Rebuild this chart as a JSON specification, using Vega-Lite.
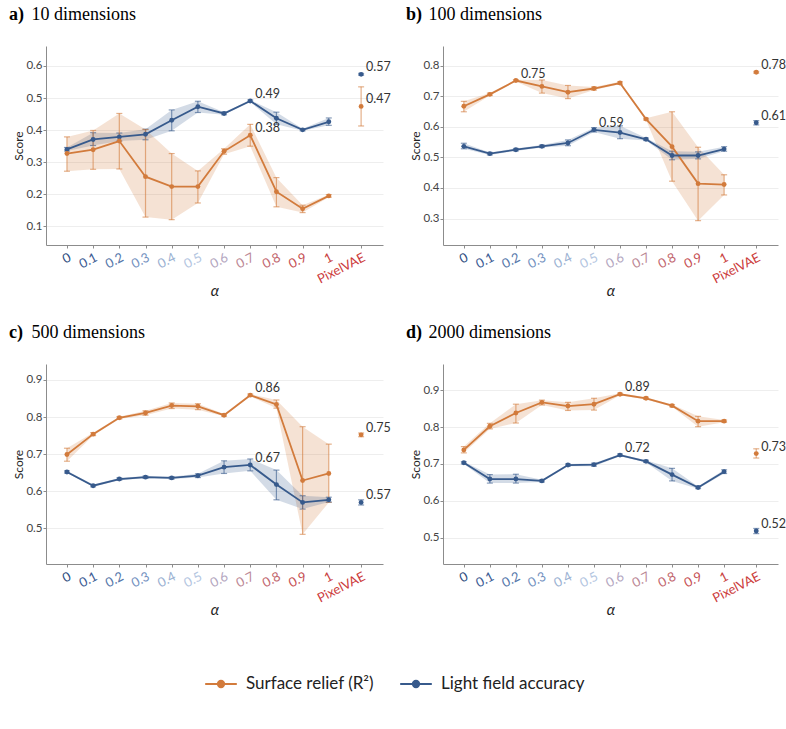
{
  "$schema": "https://vega.github.io/schema/vega-lite/v6.json",
  "background": "white",
  "padding": {"left": 8, "top": 6, "right": 2, "bottom": 5},
  "data": {
    "values": [
      {"panel": "a", "measure": "Light field accuracy", "alpha": 0, "score": 0.340, "lo": 0.335, "hi": 0.346},
      {"panel": "a", "measure": "Light field accuracy", "alpha": 0.1, "score": 0.371, "lo": 0.352, "hi": 0.392},
      {"panel": "a", "measure": "Light field accuracy", "alpha": 0.2, "score": 0.379, "lo": 0.366, "hi": 0.391},
      {"panel": "a", "measure": "Light field accuracy", "alpha": 0.3, "score": 0.387, "lo": 0.370, "hi": 0.403},
      {"panel": "a", "measure": "Light field accuracy", "alpha": 0.4, "score": 0.431, "lo": 0.398, "hi": 0.463},
      {"panel": "a", "measure": "Light field accuracy", "alpha": 0.5, "score": 0.473, "lo": 0.455, "hi": 0.490},
      {"panel": "a", "measure": "Light field accuracy", "alpha": 0.6, "score": 0.452, "lo": 0.448, "hi": 0.456},
      {"panel": "a", "measure": "Light field accuracy", "alpha": 0.7, "score": 0.491, "lo": 0.488, "hi": 0.494},
      {"panel": "a", "measure": "Light field accuracy", "alpha": 0.8, "score": 0.437, "lo": 0.418, "hi": 0.456},
      {"panel": "a", "measure": "Light field accuracy", "alpha": 0.9, "score": 0.401, "lo": 0.398, "hi": 0.404},
      {"panel": "a", "measure": "Light field accuracy", "alpha": 1, "score": 0.426, "lo": 0.415, "hi": 0.438},
      {"panel": "a", "measure": "Light field accuracy", "alpha": "PixelVAE", "score": 0.574, "lo": 0.571, "hi": 0.577},
      {"panel": "a", "measure": "Surface relief (R²)", "alpha": 0, "score": 0.327, "lo": 0.272, "hi": 0.379},
      {"panel": "a", "measure": "Surface relief (R²)", "alpha": 0.1, "score": 0.339, "lo": 0.278, "hi": 0.399},
      {"panel": "a", "measure": "Surface relief (R²)", "alpha": 0.2, "score": 0.366, "lo": 0.279, "hi": 0.452},
      {"panel": "a", "measure": "Surface relief (R²)", "alpha": 0.3, "score": 0.255, "lo": 0.129, "hi": 0.402},
      {"panel": "a", "measure": "Surface relief (R²)", "alpha": 0.4, "score": 0.224, "lo": 0.121, "hi": 0.327},
      {"panel": "a", "measure": "Surface relief (R²)", "alpha": 0.5, "score": 0.224, "lo": 0.173, "hi": 0.273},
      {"panel": "a", "measure": "Surface relief (R²)", "alpha": 0.6, "score": 0.334, "lo": 0.325, "hi": 0.342},
      {"panel": "a", "measure": "Surface relief (R²)", "alpha": 0.7, "score": 0.384, "lo": 0.350, "hi": 0.418},
      {"panel": "a", "measure": "Surface relief (R²)", "alpha": 0.8, "score": 0.208, "lo": 0.161, "hi": 0.252},
      {"panel": "a", "measure": "Surface relief (R²)", "alpha": 0.9, "score": 0.155, "lo": 0.143, "hi": 0.166},
      {"panel": "a", "measure": "Surface relief (R²)", "alpha": 1, "score": 0.195, "lo": 0.191, "hi": 0.199},
      {"panel": "a", "measure": "Surface relief (R²)", "alpha": "PixelVAE", "score": 0.474, "lo": 0.413, "hi": 0.535},

      {"panel": "b", "measure": "Surface relief (R²)", "alpha": 0, "score": 0.667, "lo": 0.649, "hi": 0.683},
      {"panel": "b", "measure": "Surface relief (R²)", "alpha": 0.1, "score": 0.706, "lo": 0.702, "hi": 0.710},
      {"panel": "b", "measure": "Surface relief (R²)", "alpha": 0.2, "score": 0.751, "lo": 0.748, "hi": 0.754},
      {"panel": "b", "measure": "Surface relief (R²)", "alpha": 0.3, "score": 0.732, "lo": 0.710, "hi": 0.753},
      {"panel": "b", "measure": "Surface relief (R²)", "alpha": 0.4, "score": 0.713, "lo": 0.692, "hi": 0.735},
      {"panel": "b", "measure": "Surface relief (R²)", "alpha": 0.5, "score": 0.725, "lo": 0.720, "hi": 0.730},
      {"panel": "b", "measure": "Surface relief (R²)", "alpha": 0.6, "score": 0.743, "lo": 0.739, "hi": 0.747},
      {"panel": "b", "measure": "Surface relief (R²)", "alpha": 0.7, "score": 0.625, "lo": 0.622, "hi": 0.628},
      {"panel": "b", "measure": "Surface relief (R²)", "alpha": 0.8, "score": 0.535, "lo": 0.422, "hi": 0.649},
      {"panel": "b", "measure": "Surface relief (R²)", "alpha": 0.9, "score": 0.414, "lo": 0.293, "hi": 0.533},
      {"panel": "b", "measure": "Surface relief (R²)", "alpha": 1, "score": 0.411, "lo": 0.377, "hi": 0.443},
      {"panel": "b", "measure": "Surface relief (R²)", "alpha": "PixelVAE", "score": 0.778, "lo": 0.775, "hi": 0.781},
      {"panel": "b", "measure": "Light field accuracy", "alpha": 0, "score": 0.536, "lo": 0.528, "hi": 0.546},
      {"panel": "b", "measure": "Light field accuracy", "alpha": 0.1, "score": 0.512, "lo": 0.508, "hi": 0.516},
      {"panel": "b", "measure": "Light field accuracy", "alpha": 0.2, "score": 0.525, "lo": 0.521, "hi": 0.529},
      {"panel": "b", "measure": "Light field accuracy", "alpha": 0.3, "score": 0.536, "lo": 0.532, "hi": 0.540},
      {"panel": "b", "measure": "Light field accuracy", "alpha": 0.4, "score": 0.547, "lo": 0.538, "hi": 0.557},
      {"panel": "b", "measure": "Light field accuracy", "alpha": 0.5, "score": 0.590, "lo": 0.583, "hi": 0.597},
      {"panel": "b", "measure": "Light field accuracy", "alpha": 0.6, "score": 0.581, "lo": 0.561, "hi": 0.603},
      {"panel": "b", "measure": "Light field accuracy", "alpha": 0.7, "score": 0.559, "lo": 0.555, "hi": 0.563},
      {"panel": "b", "measure": "Light field accuracy", "alpha": 0.8, "score": 0.506, "lo": 0.492, "hi": 0.520},
      {"panel": "b", "measure": "Light field accuracy", "alpha": 0.9, "score": 0.506, "lo": 0.495, "hi": 0.518},
      {"panel": "b", "measure": "Light field accuracy", "alpha": 1, "score": 0.527, "lo": 0.520, "hi": 0.535},
      {"panel": "b", "measure": "Light field accuracy", "alpha": "PixelVAE", "score": 0.613, "lo": 0.606, "hi": 0.620},

      {"panel": "c", "measure": "Surface relief (R²)", "alpha": 0, "score": 0.699, "lo": 0.681, "hi": 0.716},
      {"panel": "c", "measure": "Surface relief (R²)", "alpha": 0.1, "score": 0.754, "lo": 0.750, "hi": 0.758},
      {"panel": "c", "measure": "Surface relief (R²)", "alpha": 0.2, "score": 0.798, "lo": 0.795, "hi": 0.801},
      {"panel": "c", "measure": "Surface relief (R²)", "alpha": 0.3, "score": 0.811, "lo": 0.805, "hi": 0.817},
      {"panel": "c", "measure": "Surface relief (R²)", "alpha": 0.4, "score": 0.831, "lo": 0.823, "hi": 0.838},
      {"panel": "c", "measure": "Surface relief (R²)", "alpha": 0.5, "score": 0.829, "lo": 0.820, "hi": 0.836},
      {"panel": "c", "measure": "Surface relief (R²)", "alpha": 0.6, "score": 0.805, "lo": 0.802, "hi": 0.808},
      {"panel": "c", "measure": "Surface relief (R²)", "alpha": 0.7, "score": 0.859, "lo": 0.856, "hi": 0.862},
      {"panel": "c", "measure": "Surface relief (R²)", "alpha": 0.8, "score": 0.834, "lo": 0.824, "hi": 0.846},
      {"panel": "c", "measure": "Surface relief (R²)", "alpha": 0.9, "score": 0.629, "lo": 0.484, "hi": 0.774},
      {"panel": "c", "measure": "Surface relief (R²)", "alpha": 1, "score": 0.648, "lo": 0.570, "hi": 0.727},
      {"panel": "c", "measure": "Surface relief (R²)", "alpha": "PixelVAE", "score": 0.752, "lo": 0.747, "hi": 0.757},
      {"panel": "c", "measure": "Light field accuracy", "alpha": 0, "score": 0.652, "lo": 0.649, "hi": 0.655},
      {"panel": "c", "measure": "Light field accuracy", "alpha": 0.1, "score": 0.615, "lo": 0.612, "hi": 0.618},
      {"panel": "c", "measure": "Light field accuracy", "alpha": 0.2, "score": 0.633, "lo": 0.630, "hi": 0.636},
      {"panel": "c", "measure": "Light field accuracy", "alpha": 0.3, "score": 0.638, "lo": 0.635, "hi": 0.641},
      {"panel": "c", "measure": "Light field accuracy", "alpha": 0.4, "score": 0.636, "lo": 0.633, "hi": 0.639},
      {"panel": "c", "measure": "Light field accuracy", "alpha": 0.5, "score": 0.642, "lo": 0.637, "hi": 0.647},
      {"panel": "c", "measure": "Light field accuracy", "alpha": 0.6, "score": 0.665, "lo": 0.648, "hi": 0.682},
      {"panel": "c", "measure": "Light field accuracy", "alpha": 0.7, "score": 0.671, "lo": 0.655, "hi": 0.687},
      {"panel": "c", "measure": "Light field accuracy", "alpha": 0.8, "score": 0.618, "lo": 0.577, "hi": 0.657},
      {"panel": "c", "measure": "Light field accuracy", "alpha": 0.9, "score": 0.570, "lo": 0.552, "hi": 0.588},
      {"panel": "c", "measure": "Light field accuracy", "alpha": 1, "score": 0.577, "lo": 0.571, "hi": 0.584},
      {"panel": "c", "measure": "Light field accuracy", "alpha": "PixelVAE", "score": 0.570, "lo": 0.563, "hi": 0.577},

      {"panel": "d", "measure": "Surface relief (R²)", "alpha": 0, "score": 0.738, "lo": 0.730, "hi": 0.747},
      {"panel": "d", "measure": "Surface relief (R²)", "alpha": 0.1, "score": 0.802, "lo": 0.795, "hi": 0.810},
      {"panel": "d", "measure": "Surface relief (R²)", "alpha": 0.2, "score": 0.838, "lo": 0.811, "hi": 0.862},
      {"panel": "d", "measure": "Surface relief (R²)", "alpha": 0.3, "score": 0.867, "lo": 0.860, "hi": 0.873},
      {"panel": "d", "measure": "Surface relief (R²)", "alpha": 0.4, "score": 0.857, "lo": 0.845, "hi": 0.867},
      {"panel": "d", "measure": "Surface relief (R²)", "alpha": 0.5, "score": 0.862, "lo": 0.846, "hi": 0.878},
      {"panel": "d", "measure": "Surface relief (R²)", "alpha": 0.6, "score": 0.889, "lo": 0.886, "hi": 0.892},
      {"panel": "d", "measure": "Surface relief (R²)", "alpha": 0.7, "score": 0.878, "lo": 0.875, "hi": 0.881},
      {"panel": "d", "measure": "Surface relief (R²)", "alpha": 0.8, "score": 0.858, "lo": 0.855, "hi": 0.861},
      {"panel": "d", "measure": "Surface relief (R²)", "alpha": 0.9, "score": 0.816, "lo": 0.801, "hi": 0.829},
      {"panel": "d", "measure": "Surface relief (R²)", "alpha": 1, "score": 0.816, "lo": 0.813, "hi": 0.819},
      {"panel": "d", "measure": "Surface relief (R²)", "alpha": "PixelVAE", "score": 0.728, "lo": 0.716, "hi": 0.741},
      {"panel": "d", "measure": "Light field accuracy", "alpha": 0, "score": 0.703, "lo": 0.700, "hi": 0.706},
      {"panel": "d", "measure": "Light field accuracy", "alpha": 0.1, "score": 0.659, "lo": 0.648, "hi": 0.671},
      {"panel": "d", "measure": "Light field accuracy", "alpha": 0.2, "score": 0.659, "lo": 0.648, "hi": 0.672},
      {"panel": "d", "measure": "Light field accuracy", "alpha": 0.3, "score": 0.654, "lo": 0.651, "hi": 0.657},
      {"panel": "d", "measure": "Light field accuracy", "alpha": 0.4, "score": 0.697, "lo": 0.694, "hi": 0.700},
      {"panel": "d", "measure": "Light field accuracy", "alpha": 0.5, "score": 0.698, "lo": 0.694, "hi": 0.702},
      {"panel": "d", "measure": "Light field accuracy", "alpha": 0.6, "score": 0.724, "lo": 0.721, "hi": 0.727},
      {"panel": "d", "measure": "Light field accuracy", "alpha": 0.7, "score": 0.707, "lo": 0.704, "hi": 0.710},
      {"panel": "d", "measure": "Light field accuracy", "alpha": 0.8, "score": 0.671, "lo": 0.654, "hi": 0.688},
      {"panel": "d", "measure": "Light field accuracy", "alpha": 0.9, "score": 0.636, "lo": 0.633, "hi": 0.639},
      {"panel": "d", "measure": "Light field accuracy", "alpha": 1, "score": 0.679, "lo": 0.674, "hi": 0.684},
      {"panel": "d", "measure": "Light field accuracy", "alpha": "PixelVAE", "score": 0.518, "lo": 0.511, "hi": 0.525}
    ]
  },
  "transform": [
    {"calculate": "isNumber(datum.alpha) ? datum.alpha : 1.1234", "as": "xpos"},
    {"calculate": "isNumber(datum.alpha) ? 'sweep' : 'baseline'", "as": "group"},
    {"joinaggregate": [{"op": "max", "field": "score", "as": "best"}], "groupby": ["panel", "measure", "group"]}
  ],
  "vconcat": [
    {
      "spacing": 14,
      "hconcat": [
        {
          "width": 337, "height": 199,
          "title": {"text": "a)", "subtitle": "\u200b\u00a0\u00a0\u00a0\u00a0\u00a010 dimensions"},
          "transform": [{"filter": "datum.panel == 'a'"}],
          "encoding": {
            "x": {"field": "xpos", "type": "quantitative", "title": "α",
                  "scale": {"domain": [-0.08, 1.207], "nice": false, "zero": false},
                  "axis": {"values": [0, 0.1, 0.2, 0.3, 0.4, 0.5, 0.6, 0.7, 0.8, 0.9, 1, 1.1234], "tickCount": 20, "format": "~g", "labelOverlap": false,
                           "labelExpr": "datum.value > 1.05 ? 'PixelVAE' : datum.label",
                           "labelColor": {"expr": "['#2e4d80','#3b5b93','#5677aa','#7492bf','#9ab1d2','#b3c5df','#b3a6c0','#bb8794','#c2676f','#c64f53','#c93f40','#cc3b3b'][round(datum.value * 10)]"}}},
            "y": {"field": "score", "type": "quantitative", "title": "Score",
                  "scale": {"domain": [0.042, 0.6623], "nice": false, "zero": false},
                  "axis": {"values": [0.1, 0.2, 0.3, 0.4, 0.5, 0.6], "tickCount": 20, "labelOverlap": false}},
            "color": {"field": "measure", "type": "nominal",
                      "scale": {"domain": ["Surface relief (R²)", "Light field accuracy"], "range": ["#d27b3c", "#375a8c"]},
                      "legend": {"orient": "none", "legendX": 158, "legendY": 621, "direction": "horizontal", "title": null,
                                 "encode": {"symbols": {"update": {"opacity": {"value": 1}, "fill": {"scale": "color", "field": "value"}, "stroke": {"scale": "color", "field": "value"}, "strokeWidth": {"value": 2}}}}}}
          },
          "layer": [
            {"mark": {"type": "area", "opacity": 0.22}, "transform": [{"filter": "datum.group == 'sweep'"}],
             "encoding": {"y": {"field": "lo", "type": "quantitative", "title": "Score", "scale": {"domain": [0.042, 0.6623], "nice": false, "zero": false}, "axis": {"values": [0.1, 0.2, 0.3, 0.4, 0.5, 0.6], "tickCount": 20, "labelOverlap": false}}, "y2": {"field": "hi"}}},
            {"mark": {"type": "errorbar", "ticks": {"size": 6}, "thickness": 1.2, "opacity": 0.6},
             "encoding": {"y": {"field": "lo", "type": "quantitative", "title": "Score", "scale": {"domain": [0.042, 0.6623], "nice": false, "zero": false}, "axis": {"values": [0.1, 0.2, 0.3, 0.4, 0.5, 0.6], "tickCount": 20, "labelOverlap": false}}, "y2": {"field": "hi"}}},
            {"mark": {"type": "line", "strokeWidth": 1.8}, "transform": [{"filter": "datum.group == 'sweep'"}]},
            {"mark": {"type": "point", "filled": true, "size": 24, "opacity": 1}},
            {"mark": {"type": "text", "align": "left", "baseline": "middle", "dx": 5, "dy": -7, "font": "Lato", "fontSize": 12.5},
             "transform": [{"filter": "datum.score == datum.best"}],
             "encoding": {"text": {"field": "score", "format": ".2f"}, "color": {"value": "#333"}}}
          ]
        },
        {
          "width": 335, "height": 199,
          "title": {"text": "b)", "subtitle": "\u200b\u00a0\u00a0\u00a0\u00a0\u00a0100 dimensions"},
          "transform": [{"filter": "datum.panel == 'b'"}],
          "encoding": {
            "x": {"field": "xpos", "type": "quantitative", "title": "α",
                  "scale": {"domain": [-0.08, 1.207], "nice": false, "zero": false},
                  "axis": {"values": [0, 0.1, 0.2, 0.3, 0.4, 0.5, 0.6, 0.7, 0.8, 0.9, 1, 1.1234], "tickCount": 20, "format": "~g", "labelOverlap": false,
                           "labelExpr": "datum.value > 1.05 ? 'PixelVAE' : datum.label",
                           "labelColor": {"expr": "['#2e4d80','#3b5b93','#5677aa','#7492bf','#9ab1d2','#b3c5df','#b3a6c0','#bb8794','#c2676f','#c64f53','#c93f40','#cc3b3b'][round(datum.value * 10)]"}}},
            "y": {"field": "score", "type": "quantitative", "title": "Score",
                  "scale": {"domain": [0.2134, 0.864], "nice": false, "zero": false},
                  "axis": {"values": [0.3, 0.4, 0.5, 0.6, 0.7, 0.8], "tickCount": 20, "labelOverlap": false}},
            "color": {"field": "measure", "type": "nominal",
                      "scale": {"domain": ["Surface relief (R²)", "Light field accuracy"], "range": ["#d27b3c", "#375a8c"]},
                      "legend": {"orient": "none", "legendX": 158, "legendY": 621, "direction": "horizontal", "title": null,
                                 "encode": {"symbols": {"update": {"opacity": {"value": 1}, "fill": {"scale": "color", "field": "value"}, "stroke": {"scale": "color", "field": "value"}, "strokeWidth": {"value": 2}}}}}}
          },
          "layer": [
            {"mark": {"type": "area", "opacity": 0.22}, "transform": [{"filter": "datum.group == 'sweep'"}],
             "encoding": {"y": {"field": "lo", "type": "quantitative", "title": "Score", "scale": {"domain": [0.2134, 0.864], "nice": false, "zero": false}, "axis": {"values": [0.3, 0.4, 0.5, 0.6, 0.7, 0.8], "tickCount": 20, "labelOverlap": false}}, "y2": {"field": "hi"}}},
            {"mark": {"type": "errorbar", "ticks": {"size": 6}, "thickness": 1.2, "opacity": 0.6},
             "encoding": {"y": {"field": "lo", "type": "quantitative", "title": "Score", "scale": {"domain": [0.2134, 0.864], "nice": false, "zero": false}, "axis": {"values": [0.3, 0.4, 0.5, 0.6, 0.7, 0.8], "tickCount": 20, "labelOverlap": false}}, "y2": {"field": "hi"}}},
            {"mark": {"type": "line", "strokeWidth": 1.8}, "transform": [{"filter": "datum.group == 'sweep'"}]},
            {"mark": {"type": "point", "filled": true, "size": 24, "opacity": 1}},
            {"mark": {"type": "text", "align": "left", "baseline": "middle", "dx": 5, "dy": -7, "font": "Lato", "fontSize": 12.5},
             "transform": [{"filter": "datum.score == datum.best"}],
             "encoding": {"text": {"field": "score", "format": ".2f"}, "color": {"value": "#333"}}}
          ]
        }
      ]
    },
    {
      "spacing": 14,
      "hconcat": [
        {
          "width": 337, "height": 200,
          "title": {"text": "c)", "subtitle": "\u200b\u00a0\u00a0\u00a0\u00a0\u00a0500 dimensions"},
          "transform": [{"filter": "datum.panel == 'c'"}],
          "encoding": {
            "x": {"field": "xpos", "type": "quantitative", "title": "α",
                  "scale": {"domain": [-0.08, 1.207], "nice": false, "zero": false},
                  "axis": {"values": [0, 0.1, 0.2, 0.3, 0.4, 0.5, 0.6, 0.7, 0.8, 0.9, 1, 1.1234], "tickCount": 20, "format": "~g", "labelOverlap": false,
                           "labelExpr": "datum.value > 1.05 ? 'PixelVAE' : datum.label",
                           "labelColor": {"expr": "['#2e4d80','#3b5b93','#5677aa','#7492bf','#9ab1d2','#b3c5df','#b3a6c0','#bb8794','#c2676f','#c64f53','#c93f40','#cc3b3b'][round(datum.value * 10)]"}}},
            "y": {"field": "score", "type": "quantitative", "title": "Score",
                  "scale": {"domain": [0.404, 0.943], "nice": false, "zero": false},
                  "axis": {"values": [0.5, 0.6, 0.7, 0.8, 0.9], "tickCount": 20, "labelOverlap": false}},
            "color": {"field": "measure", "type": "nominal",
                      "scale": {"domain": ["Surface relief (R²)", "Light field accuracy"], "range": ["#d27b3c", "#375a8c"]},
                      "legend": {"orient": "none", "legendX": 158, "legendY": 621, "direction": "horizontal", "title": null,
                                 "encode": {"symbols": {"update": {"opacity": {"value": 1}, "fill": {"scale": "color", "field": "value"}, "stroke": {"scale": "color", "field": "value"}, "strokeWidth": {"value": 2}}}}}}
          },
          "layer": [
            {"mark": {"type": "area", "opacity": 0.22}, "transform": [{"filter": "datum.group == 'sweep'"}],
             "encoding": {"y": {"field": "lo", "type": "quantitative", "title": "Score", "scale": {"domain": [0.404, 0.943], "nice": false, "zero": false}, "axis": {"values": [0.5, 0.6, 0.7, 0.8, 0.9], "tickCount": 20, "labelOverlap": false}}, "y2": {"field": "hi"}}},
            {"mark": {"type": "errorbar", "ticks": {"size": 6}, "thickness": 1.2, "opacity": 0.6},
             "encoding": {"y": {"field": "lo", "type": "quantitative", "title": "Score", "scale": {"domain": [0.404, 0.943], "nice": false, "zero": false}, "axis": {"values": [0.5, 0.6, 0.7, 0.8, 0.9], "tickCount": 20, "labelOverlap": false}}, "y2": {"field": "hi"}}},
            {"mark": {"type": "line", "strokeWidth": 1.8}, "transform": [{"filter": "datum.group == 'sweep'"}]},
            {"mark": {"type": "point", "filled": true, "size": 24, "opacity": 1}},
            {"mark": {"type": "text", "align": "left", "baseline": "middle", "dx": 5, "dy": -7, "font": "Lato", "fontSize": 12.5},
             "transform": [{"filter": "datum.score == datum.best"}],
             "encoding": {"text": {"field": "score", "format": ".2f"}, "color": {"value": "#333"}}}
          ]
        },
        {
          "width": 335, "height": 200,
          "title": {"text": "d)", "subtitle": "\u200b\u00a0\u00a0\u00a0\u00a0\u00a02000 dimensions"},
          "transform": [{"filter": "datum.panel == 'd'"}],
          "encoding": {
            "x": {"field": "xpos", "type": "quantitative", "title": "α",
                  "scale": {"domain": [-0.08, 1.207], "nice": false, "zero": false},
                  "axis": {"values": [0, 0.1, 0.2, 0.3, 0.4, 0.5, 0.6, 0.7, 0.8, 0.9, 1, 1.1234], "tickCount": 20, "format": "~g", "labelOverlap": false,
                           "labelExpr": "datum.value > 1.05 ? 'PixelVAE' : datum.label",
                           "labelColor": {"expr": "['#2e4d80','#3b5b93','#5677aa','#7492bf','#9ab1d2','#b3c5df','#b3a6c0','#bb8794','#c2676f','#c64f53','#c93f40','#cc3b3b'][round(datum.value * 10)]"}}},
            "y": {"field": "score", "type": "quantitative", "title": "Score",
                  "scale": {"domain": [0.4286, 0.971], "nice": false, "zero": false},
                  "axis": {"values": [0.5, 0.6, 0.7, 0.8, 0.9], "tickCount": 20, "labelOverlap": false}},
            "color": {"field": "measure", "type": "nominal",
                      "scale": {"domain": ["Surface relief (R²)", "Light field accuracy"], "range": ["#d27b3c", "#375a8c"]},
                      "legend": {"orient": "none", "legendX": 158, "legendY": 621, "direction": "horizontal", "title": null,
                                 "encode": {"symbols": {"update": {"opacity": {"value": 1}, "fill": {"scale": "color", "field": "value"}, "stroke": {"scale": "color", "field": "value"}, "strokeWidth": {"value": 2}}}}}}
          },
          "layer": [
            {"mark": {"type": "area", "opacity": 0.22}, "transform": [{"filter": "datum.group == 'sweep'"}],
             "encoding": {"y": {"field": "lo", "type": "quantitative", "title": "Score", "scale": {"domain": [0.4286, 0.971], "nice": false, "zero": false}, "axis": {"values": [0.5, 0.6, 0.7, 0.8, 0.9], "tickCount": 20, "labelOverlap": false}}, "y2": {"field": "hi"}}},
            {"mark": {"type": "errorbar", "ticks": {"size": 6}, "thickness": 1.2, "opacity": 0.6},
             "encoding": {"y": {"field": "lo", "type": "quantitative", "title": "Score", "scale": {"domain": [0.4286, 0.971], "nice": false, "zero": false}, "axis": {"values": [0.5, 0.6, 0.7, 0.8, 0.9], "tickCount": 20, "labelOverlap": false}}, "y2": {"field": "hi"}}},
            {"mark": {"type": "line", "strokeWidth": 1.8}, "transform": [{"filter": "datum.group == 'sweep'"}]},
            {"mark": {"type": "point", "filled": true, "size": 24, "opacity": 1}},
            {"mark": {"type": "text", "align": "left", "baseline": "middle", "dx": 5, "dy": -7, "font": "Lato", "fontSize": 12.5},
             "transform": [{"filter": "datum.score == datum.best"}],
             "encoding": {"text": {"field": "score", "format": ".2f"}, "color": {"value": "#333"}}}
          ]
        }
      ]
    }
  ],
  "spacing": 25,
  "resolve": {"scale": {"color": "shared"}},
  "config": {
    "view": {"stroke": null},
    "font": "Lato",
    "title": {"anchor": "start", "frame": "bounds", "dx": -4, "font": "Liberation Serif", "fontSize": 18, "fontWeight": "bold", "color": "#000",
              "subtitleFont": "Liberation Serif", "subtitleFontSize": 18, "subtitleFontWeight": "normal", "subtitleColor": "#000",
              "subtitlePadding": -18, "offset": 22},
    "axis": {"domainColor": "#8c8c8c", "tickColor": "#8c8c8c", "tickSize": 3, "labelFont": "Lato", "titleFont": "Lato", "labelOverlap": false,
             "labelColor": "#444", "titleColor": "#222", "titleFontWeight": "normal", "gridColor": "#eeeeee"},
    "axisY": {"grid": true, "labelFontSize": 11.5, "titleFontSize": 12, "format": ".1f", "labelPadding": 1, "titlePadding": 0},
    "axisX": {"grid": false, "labelFontSize": 13, "labelAngle": -27, "labelAlign": "right", "labelBaseline": "top", "labelPadding": 3,
              "titleFontSize": 15, "titleFontStyle": "italic", "titlePadding": -2},
    "legend": {"labelFont": "Lato", "labelFontSize": 17, "labelColor": "#222",
               "symbolType": "M-1,0L1,0M0.2,0A0.2,0.2,0,1,1,-0.2,0A0.2,0.2,0,1,1,0.2,0Z", "symbolSize": 1000, "symbolStrokeWidth": 2,
               "columnPadding": 22, "labelOffset": 8}
  }
}
